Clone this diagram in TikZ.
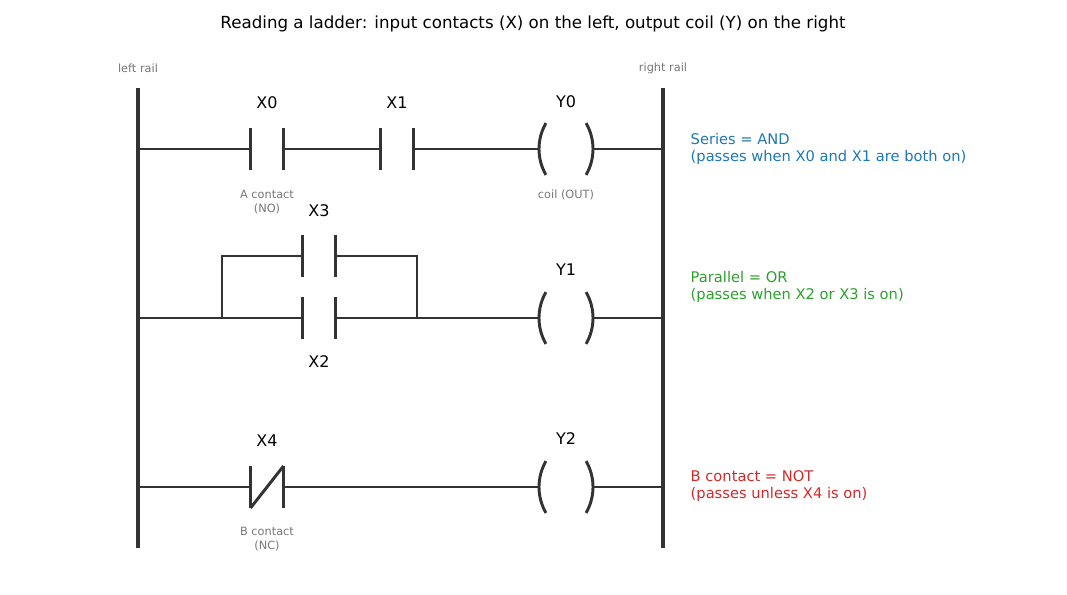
\documentclass[tikz,border=0pt]{standalone}
\usepackage{fontspec}
\setmainfont{DejaVu Sans}
\usetikzlibrary{calc}
\definecolor{ink}{HTML}{333333}
\definecolor{note}{HTML}{777777}
\definecolor{andc}{HTML}{1F77B4}
\definecolor{orc}{HTML}{2CA02C}
\definecolor{notc}{HTML}{D62728}
\tikzset{
  rail/.style={line width=2.6pt, draw=ink},
  wire/.style={line width=1.7pt, draw=ink},
  plate/.style={line width=2.2pt, draw=ink},
  tag/.style={font=\fontsize{12}{14}\selectfont},
  small/.style={font=\fontsize{8.5}{10}\selectfont, text=note, align=center},
  remark/.style={font=\fontsize{11}{12.5}\selectfont, anchor=west, align=left},
}
\newcommand{\nocontact}[2]{% name, x
  \draw[plate] ($(#1)+(-16.5,-21)$) -- ($(#1)+(-16.5,21)$);
  \draw[plate] ($(#1)+(16.5,-21)$) -- ($(#1)+(16.5,21)$);}
\newcommand{\coil}[1]{%
  \draw[plate] ([shift={(150:38.85pt)}]$(#1)+(-27+51.8,0)$) arc (150:210:38.85pt);
  \draw[plate] ([shift={(30:38.85pt)}]$(#1)+(27-51.8,0)$) arc (30:-30:38.85pt);}
\begin{document}
\begin{tikzpicture}[x=0.75pt,y=-0.75pt]
\useasboundingbox (0,0) rectangle (1067,594);

\node[font=\fontsize{12.5}{14}\selectfont] (title) at (533,24) {Reading a ladder: input contacts (X) on the left, output coil (Y) on the right};

% rails
\coordinate (lt) at (138,88);
\coordinate (lb) at (138,548);
\coordinate (rt) at (663,88);
\coordinate (rb) at (663,548);
\draw[rail] (lt) -- (lb);
\draw[rail] (rt) -- (rb);
\node[small] (lrail) at (138,68) {left rail};
\node[small] (rrail) at (663,68) {right rail};

% rung 1: series
\coordinate (x0) at (267,149);
\coordinate (x1) at (397,149);
\coordinate (y0) at (566,149);
\nocontact{x0}{}
\nocontact{x1}{}
\coil{y0}
\draw[wire] (138,149) -- ($(x0)+(-16.5,0)$);
\draw[wire] ($(x0)+(16.5,0)$) -- ($(x1)+(-16.5,0)$);
\draw[wire] ($(x1)+(16.5,0)$) -- ($(y0)+(-27,0)$);
\draw[wire] ($(y0)+(27,0)$) -- (663,149);
\node[tag] (lx0) at (267,103) {X0};
\node[tag] (lx1) at (397,103) {X1};
\node[tag] (ly0) at (566,102) {Y0};
\node[small] (na) at (267,202) {A contact\\(NO)};
\node[small] (nc) at (566,195) {coil (OUT)};

% rung 2: parallel
\coordinate (x2) at (319,318);
\coordinate (x3) at (319,256);
\coordinate (y1) at (566,318);
\nocontact{x2}{}
\nocontact{x3}{}
\coil{y1}
\draw[wire] (138,318) -- ($(x2)+(-16.5,0)$);
\draw[wire] ($(x2)+(16.5,0)$) -- ($(y1)+(-27,0)$);
\draw[wire] ($(y1)+(27,0)$) -- (663,318);
\draw[wire] (222,318) -- (222,256) -- ($(x3)+(-16.5,0)$);
\draw[wire] ($(x3)+(16.5,0)$) -- (417,256) -- (417,318);
\node[tag] (lx3) at (319,211) {X3};
\node[tag] (lx2) at (319,362) {X2};
\node[tag] (ly1) at (566,270) {Y1};

% rung 3: NC contact
\coordinate (x4) at (267,487);
\coordinate (y2) at (566,487);
\nocontact{x4}{}
\draw[plate] ($(x4)+(-16.5,21)$) -- ($(x4)+(16.5,-21)$);
\coil{y2}
\draw[wire] (138,487) -- ($(x4)+(-16.5,0)$);
\draw[wire] ($(x4)+(16.5,0)$) -- ($(y2)+(-27,0)$);
\draw[wire] ($(y2)+(27,0)$) -- (663,487);
\node[tag] (lx4) at (267,441) {X4};
\node[tag] (ly2) at (566,439) {Y2};
\node[small] (nb) at (267,539) {B contact\\(NC)};

% notes
\node[remark, text=andc] (rand) at (686,149) {Series = AND\\(passes when X0 and X1 are both on)};
\node[remark, text=orc] (ror) at (686,287) {Parallel = OR\\(passes when X2 or X3 is on)};
\node[remark, text=notc] (rnot) at (686,486) {B contact = NOT\\(passes unless X4 is on)};
\end{tikzpicture}
\end{document}
